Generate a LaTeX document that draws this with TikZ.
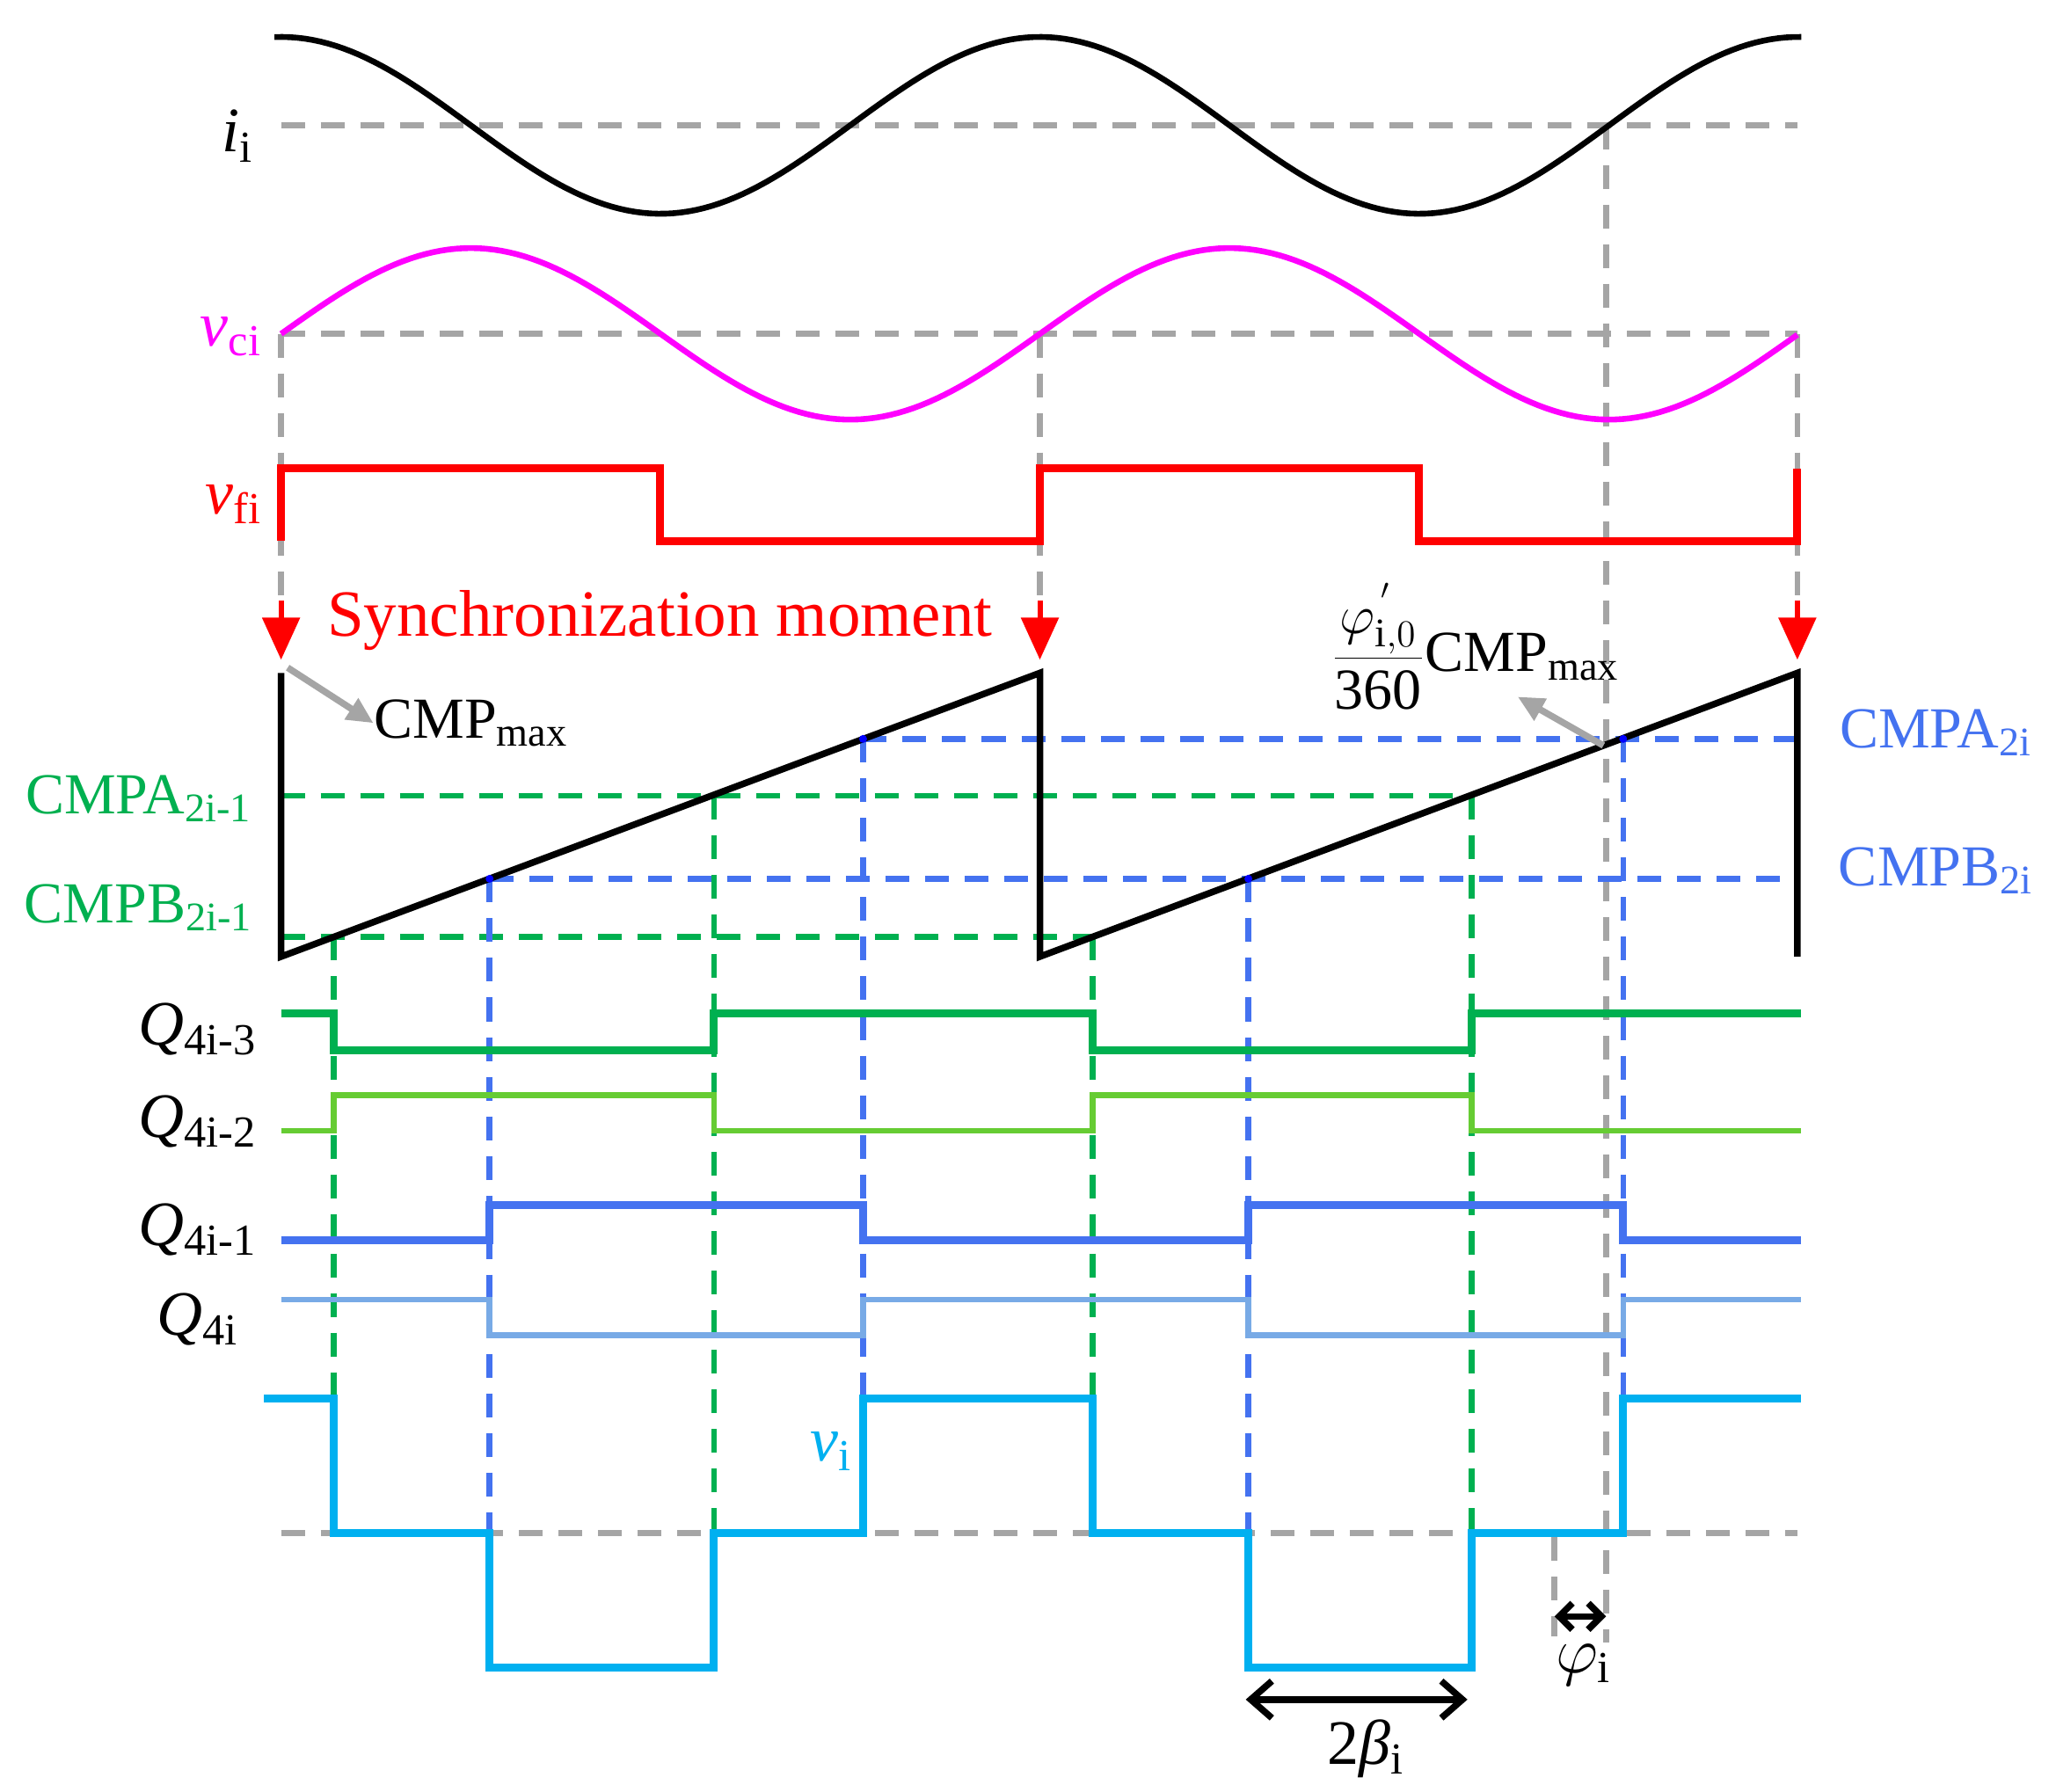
\documentclass[tikz,border=0pt]{standalone}
\usepackage{fontspec}
\setmainfont{Liberation Serif}
\usetikzlibrary{arrows.meta}
\definecolor{cgray}{RGB}{165,165,165}
\definecolor{cgreen}{RGB}{0,176,80}
\definecolor{clgreen}{RGB}{102,204,51}
\definecolor{cblue}{RGB}{68,114,240}
\definecolor{clblue}{RGB}{120,170,230}
\definecolor{ccyan}{RGB}{0,176,240}
\definecolor{cmag}{RGB}{255,0,255}
\begin{document}
\begin{tikzpicture}[x=0.5pt,y=-0.5pt,
  gd/.style={cgray,line width=2.2pt,dash pattern=on 9pt off 6pt},
  grd/.style={cgreen,line width=2.2pt,dash pattern=on 9pt off 6pt},
  bld/.style={cblue,line width=2.2pt,dash pattern=on 9pt off 6pt},
  lab/.style={font=\fontsize{22}{24}\selectfont,inner sep=0pt},
  big/.style={font=\fontsize{24}{26}\selectfont,inner sep=0pt},
  sarr/.style={red,line width=2pt,-{Triangle[length=16pt,width=14pt]}}]
\useasboundingbox (0,0) rectangle (1558,1358);
% gray dashed references
\draw[gd] (213,95) -- (1362,95);
\draw[gd] (213,253) -- (1362,253);
\draw[gd] (213,1162) -- (1362,1162);
\foreach \x in {213,788,1362} \draw[gd] (\x,253) -- (\x,460);
\draw[gd] (1217,95) -- (1217,1245);
\draw[gd] (1178,1165) -- (1178,1240);
% i_i
\draw[black,line width=2.2pt,domain=208:1365,samples=200] plot (\x,{95-67*cos((\x-213)/575*360)});
% v_ci
\draw[cmag,line width=2.2pt,domain=213:1362,samples=200] plot (\x,{253-65*sin((\x-213)/575*360)});
% v_fi
\draw[red,line width=3pt] (213,410) -- (213,355) -- (500,355) -- (500,410) -- (788,410) -- (788,355) -- (1075,355) -- (1075,410) -- (1362,410) -- (1362,355);
\foreach \x in {213,788,1362} \draw[sarr] (\x,455) -- (\x,500);
\node[lab,red,font=\fontsize{25}{27}\selectfont] (sync) at (500,470) {Synchronization moment};
% dashed comparators
\draw[grd] (213,603) -- (1115,603);
\draw[grd] (213,710) -- (828,710);
\draw[bld] (654,560) -- (1362,560);
\draw[bld] (371,666) -- (1362,666);
\foreach \x/\y in {253/710,541/603,828/710,1115/603} \draw[grd] (\x,\y) -- (\x,1162);
\foreach \x/\y in {371/666,654/560,946/666,1230/560} \draw[bld] (\x,\y) -- (\x,1162);
% sawtooth
\draw[black,line width=2.5pt] (213,510) -- (213,725) -- (788,510) -- (788,725) -- (1362,510) -- (1362,725);
\foreach \x/\y in {371/666,654/560,946/666,1230/560} \fill[blue] (\x,\y) circle (3);
% CMPmax
\node[lab,anchor=west] (cmax) at (283,548) {CMP\textsubscript{max}};
\draw[cgray,line width=2.5pt,-{Triangle[length=10pt,width=9pt]}] (218,506) -- (cmax.west);
\node[lab] (frac) at (1118,490) {$\displaystyle\frac{\varphi_{\mathrm{i},0}^{\,'}}{\mathrm{360}}$CMP\textsubscript{max}};
\coordinate (fp) at (1215,565);
\draw[cgray,line width=2.5pt,-{Triangle[length=10pt,width=9pt]}] (fp) -- (1150,528);
% labels
\node[big] (li) at (180,103) {\textit{i}\textsubscript{i}};
\node[big,cmag] (lvc) at (175,255) {\textit{v}\textsubscript{ci}};
\node[big,red] (lvf) at (177,382) {\textit{v}\textsubscript{fi}};
\node[lab,cgreen] (la1) at (105,605) {CMPA\textsubscript{2i-1}};
\node[lab,cgreen] (lb1) at (105,688) {CMPB\textsubscript{2i-1}};
\node[lab,cblue] (la2) at (1467,555) {CMPA\textsubscript{2i}};
\node[lab,cblue] (lb2) at (1467,660) {CMPB\textsubscript{2i}};
\node[big] (q3) at (150,780) {\textit{Q}\textsubscript{4i-3}};
\node[big] (q2) at (150,850) {\textit{Q}\textsubscript{4i-2}};
\node[big] (q1) at (150,932) {\textit{Q}\textsubscript{4i-1}};
\node[big] (q0) at (150,1000) {\textit{Q}\textsubscript{4i}};
\node[big,ccyan] (lvi) at (630,1100) {\textit{v}\textsubscript{i}};
% gate signals
\draw[cgreen,line width=3pt] (213,768) -- (253,768) -- (253,796) -- (541,796) -- (541,768) -- (828,768) -- (828,796) -- (1115,796) -- (1115,768) -- (1365,768);
\draw[clgreen,line width=2.2pt] (213,857) -- (253,857) -- (253,830) -- (541,830) -- (541,857) -- (828,857) -- (828,830) -- (1115,830) -- (1115,857) -- (1365,857);
\draw[cblue,line width=3pt] (213,940) -- (371,940) -- (371,913) -- (654,913) -- (654,940) -- (946,940) -- (946,913) -- (1230,913) -- (1230,940) -- (1365,940);
\draw[clblue,line width=2.2pt] (213,985) -- (371,985) -- (371,1012) -- (654,1012) -- (654,985) -- (946,985) -- (946,1012) -- (1230,1012) -- (1230,985) -- (1365,985);
\draw[ccyan,line width=3pt] (200,1060) -- (253,1060) -- (253,1162) -- (371,1162) -- (371,1264) -- (541,1264) -- (541,1162) -- (654,1162) -- (654,1060) -- (828,1060) -- (828,1162) -- (946,1162) -- (946,1264) -- (1115,1264) -- (1115,1162) -- (1230,1162) -- (1230,1060) -- (1365,1060);
% dimension arrows
\coordinate (b1) at (944,1288); \coordinate (b2) at (1112,1288);
\draw[black,line width=2.5pt,{Straight Barb[length=8pt,width=14pt]}-{Straight Barb[length=8pt,width=14pt]}] (b1) -- (b2);
\node[big] (lb) at (1035,1325) {2\textit{β}\textsubscript{i}};
\coordinate (p1) at (1178,1225); \coordinate (p2) at (1217,1225);
\draw[black,line width=2.5pt,{Straight Barb[length=5pt,width=10pt]}-{Straight Barb[length=5pt,width=10pt]}] (p1) -- (p2);
\node[big] (lp) at (1200,1262) {$\varphi_{\mathrm{i}}$};
\end{tikzpicture}
\end{document}
